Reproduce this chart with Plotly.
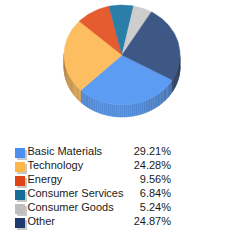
import math
import plotly.graph_objects as go

labels = ["Basic Materials", "Technology", "Energy", "Consumer Services", "Consumer Goods", "Other"]
values = [29.21, 24.28, 9.56, 6.84, 5.24, 24.87]
face_colors = ["#5C9CF2", "#FDBE62", "#E45C30", "#2A7EA8", "#CDCDCD", "#3E5886"]
key_colors = ["#4A8EF0", "#FFB648", "#DD4416", "#166C96", "#BEBEBE", "#1F3A6E"]

W = H = 245
CX, CY, RX, RY, DEPTH = 122, 55, 58, 50, 12
START = -30.0  # degrees, slices go clockwise

def hex_rgb(h):
    h = h.lstrip("#")
    return tuple(int(h[i:i + 2], 16) for i in (0, 2, 4))

def shade(h, f):
    r, g, b = hex_rgb(h)
    return "rgb(%d,%d,%d)" % (min(255, r * f), min(255, g * f), min(255, b * f))

def pt(deg):
    t = math.radians(deg)
    return CX + RX * math.cos(t), CY - RY * math.sin(t)

fig = go.Figure()

total = sum(values)
spans = []
a = START
for v in values:
    b = a - v / total * 360.0
    spans.append((a, b))
    a = b

# side walls (visible where the angle lies in the lower half)
for (a, b), col in zip(spans, face_colors):
    n = max(2, int(abs(a - b) / 2))
    for k in range(n):
        t0 = a + (b - a) * k / n
        t1 = a + (b - a) * (k + 1) / n
        tm = (t0 + t1) / 2
        s = math.sin(math.radians(tm))
        if s > 0.02:
            continue
        phi = math.radians(tm + 100)
        f = 0.5 + 0.4 * (0.5 + 0.5 * math.cos(phi)) ** 1.5
        xs, ys = [], []
        steps = 3
        for j in range(steps + 1):
            x, y = pt(t0 + (t1 - t0) * j / steps)
            xs.append(x); ys.append(y)
        for j in range(steps, -1, -1):
            x, y = pt(t0 + (t1 - t0) * j / steps)
            xs.append(x); ys.append(y + DEPTH)
        c = shade(col, f)
        fig.add_trace(go.Scatter(x=xs, y=ys, fill="toself", fillcolor=c, mode="lines",
                                 line=dict(color=c, width=0.6), hoverinfo="skip", showlegend=False))

# top faces
for (a, b), col in zip(spans, face_colors):
    n = max(4, int(abs(a - b) / 1.5))
    xs, ys = [CX], [CY]
    for j in range(n + 1):
        x, y = pt(a + (b - a) * j / n)
        xs.append(x); ys.append(y)
    xs.append(CX); ys.append(CY)
    fig.add_trace(go.Scatter(x=xs, y=ys, fill="toself", fillcolor=col, mode="lines",
                             line=dict(color=col, width=0.5), hoverinfo="skip", showlegend=False))

# legend
ROW0, STEP = 153, 14
rows = [ROW0 + STEP * i for i in range(len(labels))]
fig.add_trace(go.Scatter(x=[22] * len(rows), y=[r + 2 for r in rows], mode="markers",
                         marker=dict(symbol="square", size=10, color="#C8C8C8", line=dict(width=0)),
                         hoverinfo="skip", showlegend=False))
fig.add_trace(go.Scatter(x=[20] * len(rows), y=rows, mode="markers",
                         marker=dict(symbol="square", size=10, color=key_colors, line=dict(width=0)),
                         hoverinfo="skip", showlegend=False))
font = dict(family="Liberation Sans, Arial, sans-serif", size=11, color="#1a1a1a")
fig.add_trace(go.Scatter(x=[27.5] * len(rows), y=[r - 0.5 for r in rows], mode="text", text=labels,
                         textposition="middle right", textfont=font, hoverinfo="skip", showlegend=False))
fig.add_trace(go.Scatter(x=[171] * len(rows), y=[r - 0.5 for r in rows], mode="text",
                         text=["%.2f%%" % v for v in values],
                         textposition="middle left", textfont=font, hoverinfo="skip", showlegend=False))

fig.update_layout(width=W, height=H, margin=dict(l=0, r=0, t=0, b=0),
                  paper_bgcolor="white", plot_bgcolor="white",
                  xaxis=dict(range=[0, W], visible=False, fixedrange=True),
                  yaxis=dict(range=[H, 0], visible=False, fixedrange=True))
fig.write_html("out.html")
